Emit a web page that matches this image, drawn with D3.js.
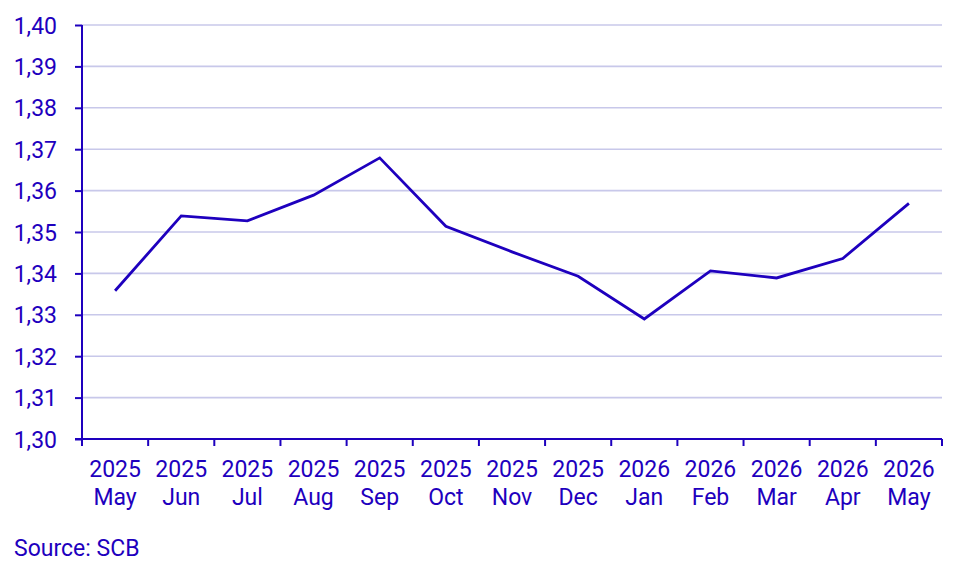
<!DOCTYPE html>
<html><head><meta charset="utf-8">
<script src="https://cdn.jsdelivr.net/npm/d3@7"></script>
<style>body{margin:0;background:#fff}svg{display:block;font-family:Roboto,sans-serif}</style>
</head><body>
<svg id="c" width="964" height="569"></svg>
<script>
const years = ["2025","2025","2025","2025","2025","2025","2025","2025","2026","2026","2026","2026","2026"];
const months = ["May","Jun","Jul","Aug","Sep","Oct","Nov","Dec","Jan","Feb","Mar","Apr","May"];
const values = [1.3358, 1.3539, 1.3527, 1.3589, 1.3679, 1.3514, 1.3452, 1.3393, 1.3290, 1.3406, 1.3389, 1.3436, 1.3569];
const yTicks = [1.30,1.31,1.32,1.33,1.34,1.35,1.36,1.37,1.38,1.39,1.40];
const source = "Source: SCB";

const col = "#1E00BE", grid = "#C8C8EA";
const fs = 23;
const svg = d3.select("#c");
const m = {l:82, r:942, t:25, b:439};
const cats = d3.range(values.length);
const x = d3.scaleBand().domain(cats).range([m.l, m.r]);
const y = d3.scaleLinear().domain([1.30, 1.40]).range([m.b, m.t]);

svg.append("g").selectAll("line").data(yTicks.slice(1)).join("line")
  .attr("x1", m.l).attr("x2", m.r).attr("y1", d=>y(d)).attr("y2", d=>y(d))
  .attr("stroke", grid).attr("stroke-width", 1.6);

const ya = svg.append("g").attr("transform", `translate(${m.l},0)`)
  .call(d3.axisLeft(y).tickValues(yTicks).tickSize(7).tickPadding(18)
    .tickFormat(d => d3.format(".2f")(d).replace(".", ",")));
ya.select(".domain").attr("stroke", col).attr("stroke-width", 2).attr("d", `M0,${m.b}V${m.t}`);
ya.selectAll(".tick line").attr("stroke", col).attr("stroke-width", 2);
ya.selectAll(".tick text").attr("fill", col).attr("font-size", fs).attr("font-family","Roboto").attr("dy","0.35em");

const xa = svg.append("g");
xa.append("line").attr("x1", m.l-7).attr("x2", m.r).attr("y1", m.b).attr("y2", m.b)
  .attr("stroke", col).attr("stroke-width", 2);
const bounds = cats.map(i => x(i)).concat([m.r]);
xa.selectAll("line.t").data(bounds).join("line").attr("class","t")
  .attr("x1", d=>d).attr("x2", d=>d).attr("y1", m.b).attr("y2", m.b+7)
  .attr("stroke", col).attr("stroke-width", 2);
const lab = xa.selectAll("text.l").data(cats).join("text").attr("class","l")
  .attr("x", i => x(i) + x.bandwidth()/2).attr("text-anchor","middle")
  .attr("fill", col).attr("font-size", fs);
lab.append("tspan").attr("x", i => x(i) + x.bandwidth()/2).attr("y", 477).text(i => years[i]);
lab.append("tspan").attr("x", i => x(i) + x.bandwidth()/2).attr("y", 505).text(i => months[i]);

svg.append("path").datum(values)
  .attr("d", d3.line().x((d,i)=>x(i)+x.bandwidth()/2).y(d=>y(d)))
  .attr("fill","none").attr("stroke", col).attr("stroke-width", 2.8).attr("stroke-linejoin","miter");

svg.append("text").attr("x", 14).attr("y", 556).attr("fill", col).attr("font-size", fs).text(source);
</script>
</body></html>
